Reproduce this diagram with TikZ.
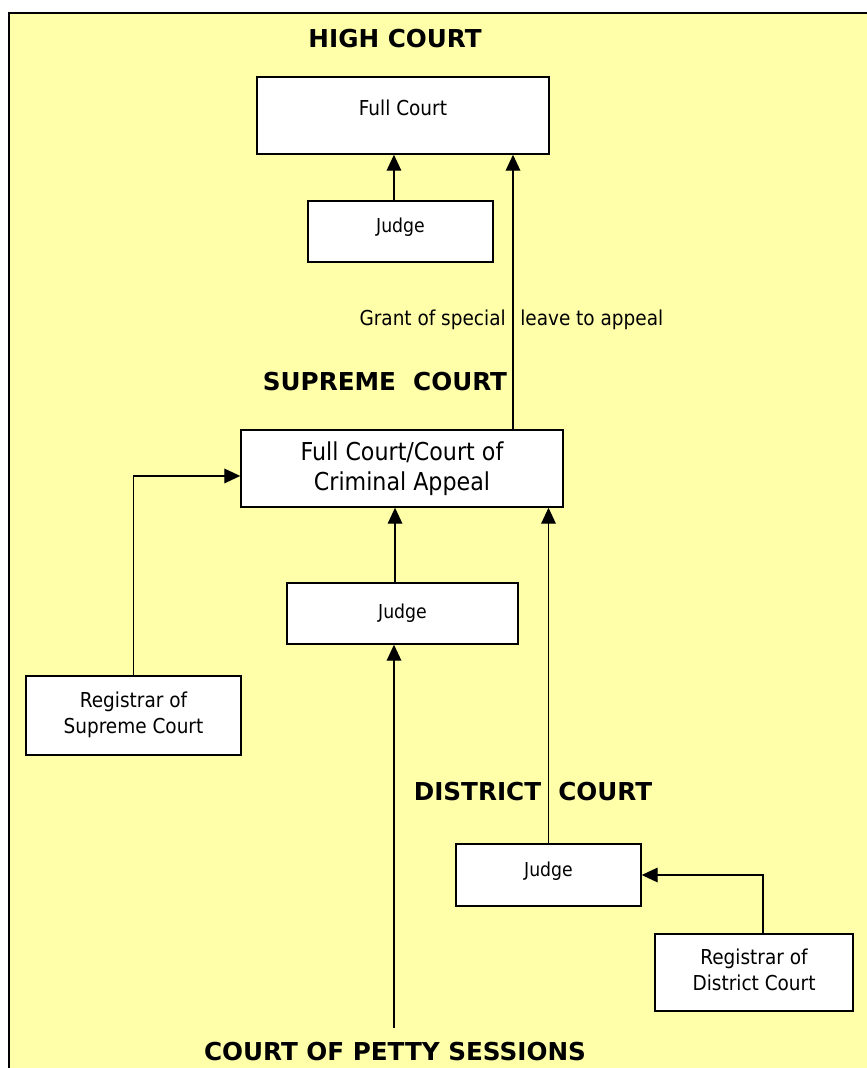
\documentclass[tikz,border=0pt]{standalone}
\usepackage{fontspec}
\setmainfont{DejaVu Sans Condensed}
\newfontfamily\headfont{DejaVu Sans}
\usepackage{tikz}
\usetikzlibrary{positioning, arrows.meta, calc}
\definecolor{courtbg}{HTML}{FFFFAA}

\begin{document}
\begin{tikzpicture}[x=0.75pt, y=-0.75pt,
 court/.style={draw=black, line width=1.1pt, fill=white, inner sep=0pt, align=center,
   font=\fontsize{15.4}{19.5}\selectfont},
 judge/.style={court, minimum width=138.75pt, minimum height=45.75pt, font=\fontsize{14.4}{18}\selectfont},
 heading/.style={font=\headfont\fontsize{18.5}{22}\selectfont\bfseries, inner sep=0pt},
 lbl/.style={font=\fontsize{15.4}{19}\selectfont, inner sep=0pt},
 appeal/.style={-{Triangle[length=12pt,width=11pt]}, line width=1pt}]
\useasboundingbox (0,0) rectangle (867,1068);
\fill[white] (0,0) rectangle (867,1068);
\draw[fill=courtbg, line width=2.2pt] (9,13) rectangle (890,1100);

\node[heading] (high) at (395,39) {HIGH COURT};
\node[court, minimum width=219pt, minimum height=57.75pt] (hfull) at (403,115.5) {\raisebox{11pt}{Full Court}};
\node[judge] (hjudge) at (400.5,231.5) {\raisebox{9pt}{Judge}};

\node[heading] (supreme) at (385,382) {SUPREME\ \ COURT};
\node[court, minimum width=241.5pt, minimum height=57.75pt, font=\fontsize{18.5}{22.5}\selectfont] (sfull) at (402,468.5) {Full Court/Court of\\Criminal Appeal};
\node[judge, minimum width=173.25pt] (sjudge) at (402.5,613.5) {Judge};
\node[court, minimum width=161.25pt, minimum height=59.25pt] (sreg) at (133.5,715.5) {\raisebox{5pt}{\begin{tabular}{@{}c@{}}Registrar of\\Supreme Court\end{tabular}}};

\node[heading] (district) at (533,792) {DISTRICT\ \ COURT};
\node[judge, minimum height=46.5pt] (djudge) at (548.5,875) {\raisebox{9pt}{Judge}};
\node[court, minimum width=148.5pt, minimum height=57.75pt] (dreg) at (754,972.5) {\raisebox{4pt}{\begin{tabular}{@{}c@{}}Registrar of\\District Court\end{tabular}}};

\node[heading] (petty) at (395,1052) {COURT OF PETTY SESSIONS};
\coordinate (pettyend) at (394,1028);

\draw[appeal] ([xshift=-4.9pt]hjudge.north) coordinate (hj) -- (hj |- hfull.south);
\draw[appeal] ([xshift=83.25pt]sfull.north) coordinate (grant) -- (grant |- hfull.south);
\node[lbl, anchor=base east] (grantl) at (506,325) {Grant of special};
\node[lbl, anchor=base west] (grantr) at (520,325) {leave to appeal};
\draw[appeal] ([xshift=-5.6pt]sjudge.north) coordinate (sj) -- (sj |- sfull.south);
\draw[appeal] (pettyend) -- (pettyend |- sjudge.south);
\draw[appeal] (djudge.north) -- (djudge.north |- sfull.south);
\draw[appeal] (sreg.north) |- ([yshift=-5.6pt]sfull.west);
\draw[appeal] ([xshift=6.75pt]dreg.north) |- (djudge.east);

\end{tikzpicture}
\end{document}
